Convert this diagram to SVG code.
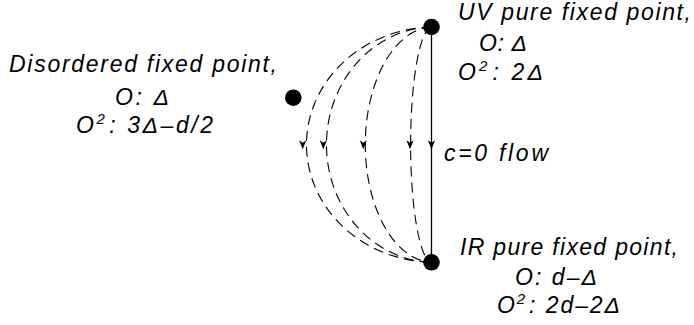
<svg xmlns="http://www.w3.org/2000/svg" xmlns:xlink="http://www.w3.org/1999/xlink" width="694" height="325" viewBox="0 0 694 325">
<style>
.lbl{font-family:"Liberation Sans",Arial,sans-serif;font-style:italic;font-size:23px;fill:#000}
.sup{font-size:15px}
.dash{fill:none;stroke:#000;stroke-width:1.1;stroke-dasharray:10,6}
.solid{fill:none;stroke:#000;stroke-width:1.3}
.node{fill:#000}
</style>
<defs>
<path id="ah" d="M0,0 L-3.6,-9 L0,-6.5 L3.6,-9 Z" fill="#000"/>
</defs>
<rect width="694" height="325" fill="#fff"/>
<g id="connectors">
<path class="dash" d="M431.5,27 A128.8,117.7 0 0 0 431.5,262.3"/>
<path class="dash" d="M431.5,27 A108.2,117.7 0 0 0 431.5,262.3"/>
<path class="dash" d="M431.5,27 A68.2,117.7 0 0 0 431.5,262.3"/>
<path class="dash" d="M431.5,27 A21.5,117.7 0 0 0 431.5,262.3"/>
<line class="solid" x1="431.5" y1="27" x2="431.5" y2="262.3"/>
<use xlink:href="#ah" x="302.7" y="149.3"/>
<use xlink:href="#ah" x="323.3" y="149.3"/>
<use xlink:href="#ah" x="363.3" y="149.3"/>
<use xlink:href="#ah" x="410" y="149.3"/>
<use xlink:href="#ah" x="431.5" y="149.3"/>
<text class="lbl" x="444" y="161" textLength="104">c=0 flow</text>
</g>
<g id="uv">
<circle class="node" cx="431.5" cy="27" r="8.3"/>
<text class="lbl" x="458" y="20" textLength="233">UV pure fixed point,</text>
<text class="lbl" x="479" y="51" textLength="48">O: Δ</text>
<text class="lbl" x="458" y="80" textLength="85">O<tspan class="sup" dy="-9">2</tspan><tspan dx="2" dy="9">: 2Δ</tspan></text>
</g>
<g id="disordered">
<circle class="node" cx="293.3" cy="97.7" r="8.3"/>
<text class="lbl" x="9" y="71.5" textLength="268">Disordered fixed point,</text>
<text class="lbl" x="115" y="104.5" textLength="54">O: Δ</text>
<text class="lbl" x="76" y="133" textLength="137">O<tspan class="sup" dy="-9">2</tspan><tspan dx="2" dy="9">: 3Δ–d/2</tspan></text>
</g>
<g id="ir">
<circle class="node" cx="431.5" cy="262.3" r="8.3"/>
<text class="lbl" x="460" y="255" textLength="218">IR pure fixed point,</text>
<text class="lbl" x="515" y="285" textLength="82">O: d–Δ</text>
<text class="lbl" x="497" y="313" textLength="123">O<tspan class="sup" dy="-9">2</tspan><tspan dx="2" dy="9">: 2d–2Δ</tspan></text>
</g>
</svg>
